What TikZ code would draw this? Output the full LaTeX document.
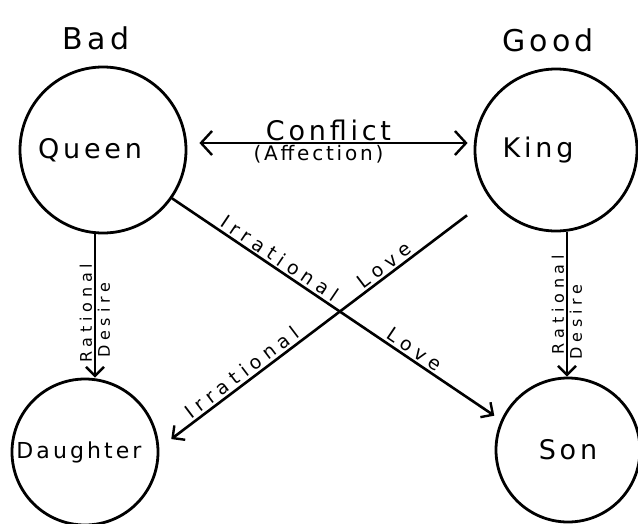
\documentclass[tikz,border=0pt]{standalone}
\usepackage{fontspec}
\newfontfamily\hand[LetterSpace=14]{DejaVu Sans}
\newfontfamily\handwide[LetterSpace=30]{DejaVu Sans}
\usetikzlibrary{arrows.meta}
\begin{document}
\begin{tikzpicture}[x=1pt,y=-1pt,
  person/.style={circle,draw,line width=2.8pt,inner sep=0pt,font=\hand\fontsize{27}{30}\selectfont},
  conn/.style={line width=2.6pt},
  arr/.style={conn,-{Straight Barb[length=9pt,width=18pt,line width=2.4pt]}},
  rarr/.style={conn,{Straight Barb[length=9pt,width=18pt,line width=2.4pt]}-},
  darr/.style={conn,{Straight Barb[length=11pt,width=24pt,line width=2.4pt]}-{Straight Barb[length=11pt,width=24pt,line width=2.4pt]}},
  lbl/.style={font=\handwide\fontsize{19}{21}\selectfont,inner sep=2pt},
  vlbl/.style={font=\handwide\fontsize{16}{18}\selectfont,inner sep=1.5pt,rotate=90},
  head/.style={font=\hand\fontsize{30}{34}\selectfont}
]
\useasboundingbox (0,0) rectangle (638,523);
\fill[white] (0,0) rectangle (638,523);

\node[head] (bad) at (96,38) {Bad};
\node[head] (good) at (548,40) {Good};

\node[person,minimum size=166pt] (queen) at (103,150) {Queen\hspace*{26pt}};
\node[person,minimum size=162pt] (king) at (556,150) {King\hspace*{36pt}};
\node[person,minimum size=146pt,font=\hand\fontsize{22}{26}\selectfont] (daughter) at (85,452) {Daughter\hspace*{12pt}};
\node[person,minimum size=144pt] (son) at (568,450) {Son};

\coordinate (qx) at (95,0);
\coordinate (kx) at (567,0);

% Conflict
\draw[darr] ([xshift=12pt,yshift=7pt]queen.east) -- ([xshift=-6pt,yshift=7pt]king.west)
  node[midway,above,font=\hand\fontsize{27}{30}\selectfont,xshift=-5pt,inner sep=1pt] {Conflict}
  node[midway,below,font=\hand\fontsize{20}{22}\selectfont,xshift=-15pt,inner sep=1pt] {(Affection)};

% Queen -> Daughter
\draw[arr] (queen.south -| qx) -- (daughter.north -| qx)
  node[pos=0.55,vlbl,anchor=south] {Rational}
  node[pos=0.6,vlbl,anchor=north] {Desire};

% King -> Son
\draw[arr] (king.south -| kx) -- (son.north -| kx)
  node[pos=0.5,vlbl,anchor=south] {Rational}
  node[pos=0.62,vlbl,anchor=north] {Desire};

% Queen -> Son
\draw[arr,shorten >=8pt] (queen.-35) -- (son.156)
  node[pos=0.31,sloped,above,lbl] {Irrational}
  node[pos=0.72,sloped,above,lbl] {Love};

% King -> Daughter
\draw[rarr,shorten <=15pt,shorten >=28pt] (daughter.3) -- (king.216)
  node[pos=0.27,sloped,above,lbl] {Irrational}
  node[pos=0.7,sloped,above,lbl] {Love};
\end{tikzpicture}
\end{document}
